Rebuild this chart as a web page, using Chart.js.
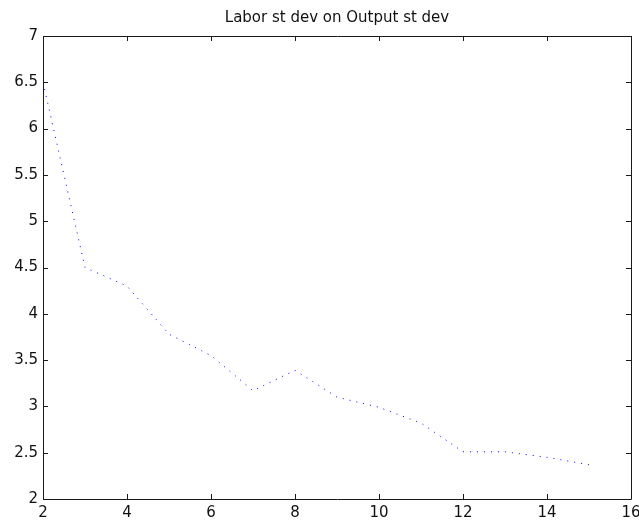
<!DOCTYPE html>
<html>
<head>
<meta charset="utf-8">
<script src="https://cdn.jsdelivr.net/npm/chart.js@4/dist/chart.umd.min.js"></script>
<style>
  html, body { margin: 0; padding: 0; background: #ffffff; }
  #wrap { width: 639px; height: 524px; position: relative; }
</style>
</head>
<body>
<div id="wrap"><canvas id="c" width="639" height="524"></canvas></div>
<script>
// Data
const chartTitle = "Labor st dev on Output st dev";
const xValues = [2, 3, 4, 5, 6, 7, 8, 9, 10, 11, 12, 13, 14, 15];
const yValues = [6.5, 4.5, 4.3, 3.78, 3.55, 3.17, 3.39, 3.1, 2.99, 2.82, 2.51, 2.51, 2.45, 2.37];
const xTicks = [2, 4, 6, 8, 10, 12, 14, 16];
const yTicks = [2, 2.5, 3, 3.5, 4, 4.5, 5, 5.5, 6, 6.5, 7];

const FONT = "'DejaVu Sans', sans-serif";
const AXIS_COLOR = '#1a1a1a';

// MATLAB-style box with inward ticks on all four sides
const boxTicks = {
  id: 'boxTicks',
  afterDraw(chart) {
    const { ctx, chartArea: a, scales } = chart;
    const L = 5;
    ctx.save();
    ctx.strokeStyle = AXIS_COLOR;
    ctx.lineWidth = 1;
    ctx.beginPath();
    ctx.rect(Math.round(a.left) + 0.5, Math.round(a.top) + 0.5,
             Math.round(a.right - a.left), Math.round(a.bottom - a.top));
    xTicks.forEach(v => {
      const px = Math.round(scales.x.getPixelForValue(v)) + 0.5;
      ctx.moveTo(px, a.bottom); ctx.lineTo(px, a.bottom - L);
      ctx.moveTo(px, a.top); ctx.lineTo(px, a.top + L);
    });
    yTicks.forEach(v => {
      const py = Math.round(scales.y.getPixelForValue(v)) + 0.5;
      ctx.moveTo(a.left, py); ctx.lineTo(a.left + L, py);
      ctx.moveTo(a.right, py); ctx.lineTo(a.right - L, py);
    });
    ctx.stroke();
    ctx.restore();
  }
};

new Chart(document.getElementById('c'), {
  type: 'line',
  data: {
    datasets: [{
      data: xValues.map((x, i) => ({ x: x, y: yValues[i] })),
      borderColor: '#0000ff',
      borderWidth: 1,
      borderDash: [1, 6],
      pointRadius: 0,
      tension: 0,
      fill: false
    }]
  },
  options: {
    responsive: false,
    animation: false,
    layout: { padding: { top: 0, right: 8, bottom: 0, left: 0 } },
    plugins: {
      legend: { display: false },
      tooltip: { enabled: false },
      title: {
        display: true,
        text: chartTitle,
        fullSize: false,
        color: '#111111',
        font: { family: FONT, size: 15, weight: 'normal', lineHeight: 1.2 },
        padding: { top: 9, bottom: 9 }
      }
    },
    scales: {
      x: {
        type: 'linear',
        min: 2, max: 16,
        afterBuildTicks(s) { s.ticks = xTicks.map(v => ({ value: v })); },
        afterFit(s) { s.height = 25; s.paddingLeft = 0; s.paddingRight = 0; },
        grid: { display: false, drawTicks: false },
        border: { display: false },
        ticks: {
          color: '#111111', font: { family: FONT, size: 15 }, padding: 5,
          maxRotation: 0, autoSkip: false,
          callback: v => String(v)
        }
      },
      y: {
        type: 'linear',
        min: 2, max: 7,
        afterBuildTicks(s) { s.ticks = yTicks.map(v => ({ value: v })); },
        afterFit(s) { s.width = 43; s.paddingTop = 0; s.paddingBottom = 0; },
        grid: { display: false, drawTicks: false },
        border: { display: false },
        ticks: {
          color: '#111111', font: { family: FONT, size: 15 }, padding: 5,
          autoSkip: false,
          callback: v => String(v)
        }
      }
    }
  },
  plugins: [boxTicks]
});
</script>
</body>
</html>
